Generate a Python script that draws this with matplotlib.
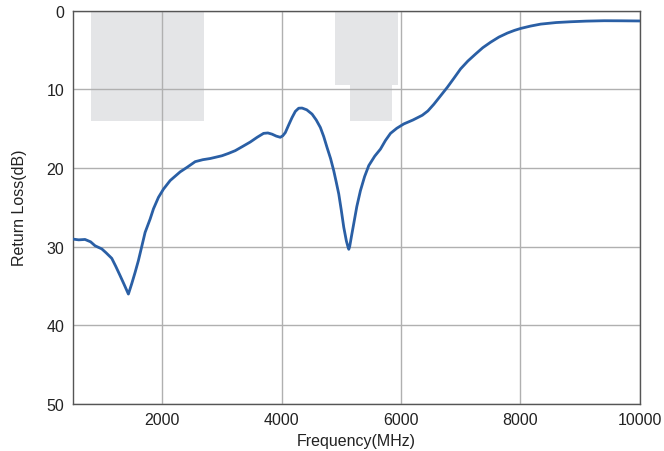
import matplotlib
matplotlib.use("Agg")
import matplotlib.pyplot as plt
from matplotlib.patches import Rectangle

freq = [500, 600, 706, 800, 874, 930, 987, 1060, 1154, 1220, 1294, 1360, 1433, 1490, 1545,
        1600, 1641, 1713, 1797, 1853, 1936, 2020, 2133, 2300, 2420, 2552, 2680, 2804, 3000,
        3110, 3223, 3350, 3475, 3590, 3698, 3770, 3839, 3910, 3978, 4020, 4062, 4120, 4174,
        4230, 4286, 4342, 4420, 4510, 4580, 4649, 4705, 4761, 4820, 4873, 4915, 4957, 5000,
        5041, 5085, 5110, 5125, 5140, 5170, 5208, 5260, 5320, 5390, 5460, 5560, 5656, 5740,
        5824, 5930, 6047, 6200, 6356, 6450, 6550, 6660, 6775, 6890, 6998, 7120, 7250, 7370,
        7502, 7640, 7782, 7900, 8005, 8170, 8340, 8600, 8844, 9100, 9403, 9700, 10000]
rl = [29.05, 29.15, 29.1, 29.4, 29.9, 30.1, 30.3, 30.8, 31.5, 32.5, 33.7, 34.8, 36.05, 34.7, 33.3,
      31.8, 30.5, 28.2, 26.5, 25.2, 23.75, 22.7, 21.6, 20.5, 19.9, 19.2, 18.95, 18.8, 18.45,
      18.15, 17.8, 17.25, 16.7, 16.1, 15.6, 15.55, 15.7, 15.95, 16.1, 15.9, 15.5, 14.5, 13.6,
      12.8, 12.4, 12.38, 12.6, 13.15, 13.9, 14.85, 16.0, 17.4, 18.8, 20.35, 21.8, 23.3, 25.4,
      27.55, 29.3, 30.0, 30.35, 30.0, 28.7, 27.1, 24.9, 22.9, 21.1, 19.7, 18.5, 17.6, 16.5,
      15.6, 14.95, 14.4, 13.9, 13.3, 12.75, 11.9, 10.85, 9.75, 8.55, 7.4, 6.4, 5.5, 4.7,
      4.0, 3.35, 2.84, 2.5, 2.25, 1.95, 1.7, 1.5, 1.4, 1.32, 1.27, 1.28, 1.3]

band_start = [800, 4900, 5150]
band_end = [2700, 5950, 5850]
band_depth = [14, 9.5, 14]

xticks = [2000, 4000, 6000, 8000, 10000]
yticks = [0, 10, 20, 30, 40, 50]

plt.rcParams['font.family'] = ['Liberation Sans', 'DejaVu Sans']

fig = plt.figure(figsize=(6.64, 4.52), dpi=100)
ax = fig.add_axes([0.1095, 0.1046, 0.854, 0.8694])

for s, e, d in zip(band_start, band_end, band_depth):
    ax.add_patch(Rectangle((s, 0), e - s, d, facecolor='#e4e5e7', edgecolor='none', zorder=0.5))

ax.plot(freq, rl, color='#2a5fa5', lw=2.0, zorder=3, solid_joinstyle='round', solid_capstyle='round')

ax.set_xlim(500, 10000)
ax.set_ylim(50, 0)
ax.set_xticks(xticks)
ax.set_yticks(yticks)
ax.grid(True, color='#b0b0b0', lw=1.0, zorder=1)
ax.set_axisbelow(True)
ax.tick_params(length=0, labelsize=11.5, colors='#222222', pad=6)
for sp in ax.spines.values():
    sp.set_color('#555555')
    sp.set_linewidth(1.0)
ax.set_xlabel('Frequency(MHz)', fontsize=11.5, color='#222222', labelpad=4)
ax.set_ylabel('Return Loss(dB)', fontsize=11.5, color='#222222', labelpad=14)

fig.savefig('out.png', dpi=100)
